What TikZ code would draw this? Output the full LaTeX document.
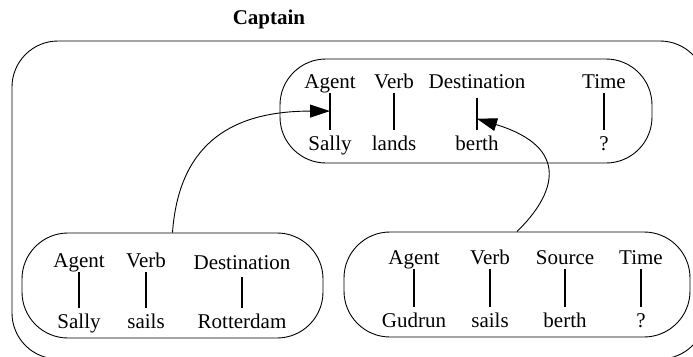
\documentclass[tikz,border=0pt]{standalone}
\usepackage{fontspec}
\setmainfont{Liberation Serif}
\usetikzlibrary{arrows.meta,calc}
\tikzset{
  frame/.style={draw, rounded corners=46pt, line width=0.9pt},
  role/.style={font=\fontsize{21}{24}\selectfont, inner sep=0pt, text height=14pt, text depth=5pt, anchor=base},
  bar/.style={line width=1.5pt, shorten >=6pt},
  link/.style={line width=0.9pt, -{Triangle[length=20pt,width=13pt]}},
}

\begin{document}
\begin{tikzpicture}[x=1pt, y=-1pt]
\useasboundingbox (0,0) rectangle (693,356);
\clip (0,0) rectangle (693,356);
% Outer context with its title
\node[font=\fontsize{21}{24}\selectfont\bfseries, anchor=base] (captain) at (269,24) {Captain};
\draw[line width=0.9pt, rounded corners=46pt] (12,41) rectangle (706,359);
% Frame: Sally lands
\node[frame, minimum width=372pt, minimum height=104pt] (lands) at (466,111) {};
\node[role] (ldAgent) at (330,88) {Agent};
\node[role] (ldVerb) at (394,88) {Verb};
\node[role] (ldDest) at (477,88) {Destination};
\node[role] (ldTime) at (604,88) {Time};
\node[role] (ldSally) at (330,150) {Sally};
\node[role] (ldLands) at (394,150) {lands};
\node[role] (ldBerth) at (477,150) {berth};
\node[role] (ldWhen) at (604,150) {?};
\draw[bar] (ldAgent) -- (ldSally);
\draw[bar] (ldVerb) -- (ldLands);
\draw[bar, shorten <=5pt] (ldDest) -- (ldBerth);
\draw[bar] (ldTime) -- (ldWhen);
% Frame: Sally sails to Rotterdam
\node[frame, minimum width=301pt, minimum height=105pt] (sails) at (172.5,285.5) {};
\node[role] (slAgent) at (79,267) {Agent};
\node[role] (slVerb) at (146,267) {Verb};
\node[role] (slDest) at (242,269) {Destination};
\node[role] (slSally) at (79,328) {Sally};
\node[role] (slSails) at (146,328) {sails};
\node[role] (slRdam) at (242,328) {Rotterdam};
\draw[bar] (slAgent) -- (slSally);
\draw[bar] (slVerb) -- (slSails);
\draw[bar, shorten <=3pt] (slDest) -- (slRdam);
% Frame: Gudrun sails from berth
\node[frame, minimum width=346pt, minimum height=105pt] (gudrun) at (517,284.5) {};
\node[role] (gdAgent) at (414,264) {Agent};
\node[role] (gdVerb) at (490,264) {Verb};
\node[role] (gdSource) at (565,264) {Source};
\node[role] (gdTime) at (641,264) {Time};
\node[role] (gdGudrun) at (414,327) {Gudrun};
\node[role] (gdSails) at (490,327) {sails};
\node[role] (gdBerth) at (565,327) {berth};
\node[role] (gdWhen) at (641,327) {?};
\draw[bar] (gdAgent) -- (gdGudrun);
\draw[bar] (gdVerb) -- (gdSails);
\draw[bar] (gdSource) -- (gdBerth);
\draw[bar] (gdTime) -- (gdWhen);
% Links between frames
\draw[link] (sails.north) .. controls +(6,-83) and +(-105,0) .. ($(ldAgent.south)!0.42!(ldSally.north)$);
\draw[link] (gudrun.north) .. controls +(38,-37) and +(95,29) .. ($(ldDest.south)!0.6!(ldBerth.north)$);
\end{tikzpicture}
\end{document}
